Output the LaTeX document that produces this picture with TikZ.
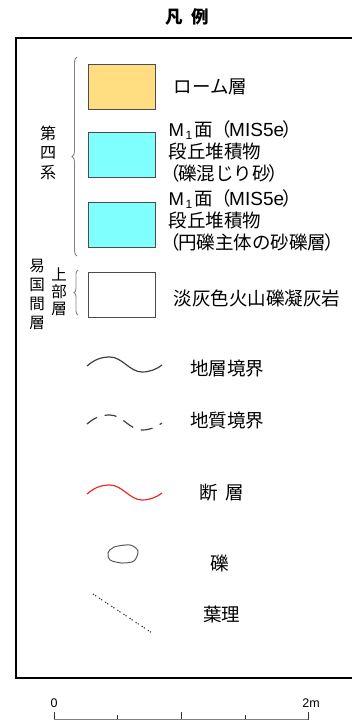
\documentclass[tikz,border=0pt]{standalone}
\usepackage{fontspec}
\setmainfont{Noto Sans CJK JP}
\newfontfamily\latin{Liberation Sans}
\usepackage{xcolor}
\usepackage{tikz}
\usetikzlibrary{positioning, decorations.pathreplacing}
\definecolor{loamorange}{RGB}{255,221,128}
\definecolor{terracecyan}{RGB}{128,255,255}
\definecolor{bracegray}{RGB}{130,130,130}
\definecolor{faultred}{RGB}{240,40,40}
\tikzstyle{legendbox} = [rectangle, minimum width=67pt, minimum height=45pt, draw=black!70, line width=0.9pt, inner sep=0pt]
\tikzstyle{legtext} = [anchor=west, font=\fontsize{18.5}{22}\selectfont, align=left, inner sep=0pt]
\tikzstyle{vtext} = [font=\fontsize{15.5}{19}\selectfont, align=center, inner sep=0pt]
\tikzstyle{curlybrace} = [decorate, decoration={brace, amplitude=5pt}, draw=bracegray, line width=0.9pt]
\tikzstyle{wave} = [line width=1.2pt, draw=black!75]
\newcommand{\sinewave}{(0,0) .. controls (8,-7) and (15,-9) .. (23,-9) .. controls (35,-9) and (43,6) .. (55,6) .. controls (63,6) and (70,3) .. (75,-1)}
\newcommand{\mone}{{\latin M}\kern1.5pt\raisebox{-0.3ex}{\latin\fontsize{12}{12}\selectfont 1}\kern2pt 面（\kern-2pt{\latin\fontsize{19}{19}\selectfont MIS5e}\kern-2pt）}
\newcommand{\paren}[1]{\kern-7pt（\kern-2pt #1\kern-2pt）}

\begin{document}
\begin{tikzpicture}[x=1pt, y=-1pt]
    \useasboundingbox (0,0) rectangle (352,720);
    % Title and frame
    \node (title) at (187,17) [font=\fontsize{17.5}{17.5}\selectfont\bfseries] {凡\ \ 例};
    \draw [line width=1.3pt] (360,38) -| (16,678) -- (360,678);

    % Colour boxes
    \node (loam) at (121.5,86.5) [legendbox, fill=loamorange] {};
    \node (terraceA) [legendbox, fill=terracecyan, below=23pt of loam] {};
    \node (terraceB) [legendbox, fill=terracecyan, below=24pt of terraceA] {};
    \node (tuff) [legendbox, fill=white, below=24pt of terraceB] {};

    \node (loamtxt) [legtext, right=18pt of loam] {ローム層};
    \node (terraceAtxt) [legtext, right=13pt of terraceA, yshift=4pt] {\mone\\段丘堆積物\\\paren{礫混じり砂}};
    \node (terraceBtxt) [legtext, right=13pt of terraceB, yshift=5pt] {\mone\\段丘堆積物\\\paren{円礫主体の砂礫層}};
    \node (tufftxt) [legtext, right=18pt of tuff, yshift=-3.5pt] {淡灰色火山礫凝灰岩};

    % Stratigraphic units
    \node (quaternary) at (48,152.5) [vtext, font=\fontsize{16}{19.5}\selectfont] {第\\四\\系};
    \node (okoppe) at (37,294.5) [vtext] {易\\国\\間\\層};
    \node (upper) at (59,292) [vtext, font=\fontsize{15.5}{17}\selectfont] {上\\部\\層};
    \draw [curlybrace] (77,256) -- (77,57);
    \draw [curlybrace, decoration={amplitude=4pt}] (78,315) -- (78,270);

    % Line symbols
    \coordinate (strata) at (87,366);
    \coordinate (geol) at (87,424);
    \coordinate (fault) at (87,494);
    \draw [wave, shift={(strata)}] \sinewave;
    \draw [wave, shift={(geol)}, dash pattern=on 12pt off 8pt] \sinewave;
    \draw [wave, shift={(fault)}, draw=faultred] \sinewave;
    \node (stratatxt) at (190,369) [legtext] {地層境界};
    \node (geoltxt) at (190,421) [legtext] {地質境界};
    \node (faulttxt) at (199,493) [legtext] {断\ \ 層};

    % Gravel and lamina
    \draw [line width=1pt, draw=black!65] plot [smooth cycle] coordinates {(108,553) (114,547) (130,545) (138,551) (134,561) (122,563) (110,560)};
    \node (graveltxt) at (210,563) [legtext] {礫};
    \coordinate (laminaA) at (93,594);
    \coordinate (laminaB) at (152,633);
    \draw [line width=1.1pt, draw=black!80, dash pattern=on 1.2pt off 1.3pt on 1.2pt off 3.6pt] (laminaA) -- (laminaB);
    \node (laminatxt) at (203,614) [legtext] {葉理};

    % Scale bar
    \foreach \x/\h in {54/8, 117/5, 181/8, 245/5, 308/8}
        \draw [line width=0.9pt, draw=black!80] (\x,720) -- (\x,720-\h);
    \draw [line width=0.6pt, draw=black!50] (54,719.7) -- (308,719.7);
    \node (zero) at (54,703) [font=\latin\fontsize{12.5}{12.5}\selectfont, inner sep=0pt] {0};
    \node (twom) at (311,703) [font=\latin\fontsize{12.5}{12.5}\selectfont, inner sep=0pt] {2m};
\end{tikzpicture}
\end{document}
